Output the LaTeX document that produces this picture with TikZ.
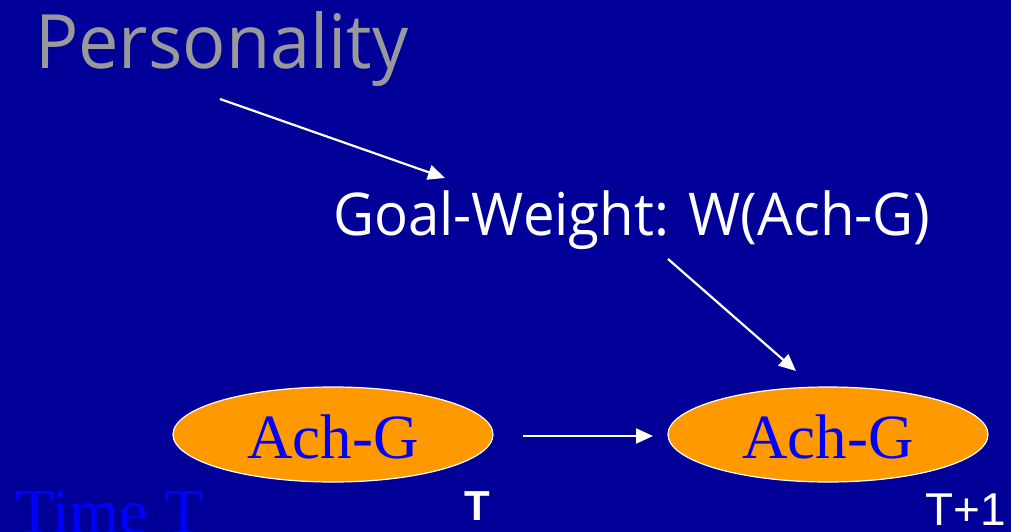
\documentclass[tikz,border=0pt]{standalone}
\usepackage{fontspec}
\setmainfont{Liberation Serif}
\newfontfamily\comicfont{Open Sans}
\newfontfamily\arialfont{Liberation Sans}
\usetikzlibrary{shapes.geometric,arrows.meta}
\definecolor{bgblue}{RGB}{0,0,153}
\definecolor{ellorange}{RGB}{255,153,0}
\definecolor{txtblue}{RGB}{0,0,255}
\definecolor{persgray}{RGB}{153,153,153}
\tikzset{
  conn/.style={draw=white, line width=2.2pt, -{Triangle[length=17pt,width=15pt]}},
  achnode/.style={ellipse, draw=white, line width=1.2pt, fill=ellorange,
    minimum width=320pt, minimum height=95pt, inner sep=0pt},
  achtext/.style={text=txtblue, font=\fontsize{63}{70}\selectfont},
}
\begin{document}
\begin{tikzpicture}[x=1pt,y=-1pt]
\fill[bgblue] (0,0) rectangle (1011,532);
\useasboundingbox (0,0) rectangle (1011,532);
% titles
\node[anchor=base west, inner sep=0pt, text=persgray, font=\comicfont\fontsize{75}{90}\selectfont] (pers) at (35,69) {\scalebox{0.96}[1]{Personality}};
\node[anchor=base west, inner sep=0pt, text=white, font=\comicfont\fontsize{59}{70}\selectfont] (goal) at (333,235) {\scalebox{0.955}[1]{Goal-Weight: W(Ach-G)}};
% ellipses
\node[achnode] (e1) at (333,434.5) {};
\node[achnode] (e2) at (828,434.5) {};
\node[achtext, anchor=base, inner sep=0pt] (t1) at (333,458) {Ach-G};
\node[achtext, anchor=base, inner sep=0pt] (t2) at (828,458) {Ach-G};
% labels
\node[anchor=base west, inner sep=0pt, text=txtblue, font=\fontsize{64}{70}\selectfont] (time) at (15,533) {Time T};
\node[anchor=base west, inner sep=0pt, text=white, font=\arialfont\bfseries\fontsize{42}{50}\selectfont] (tl) at (464,520) {T};
\node[anchor=base west, inner sep=0pt, text=white, font=\arialfont\fontsize{46}{56}\selectfont] (tp) at (925,525) {T+1};
% connectors
\coordinate (a1s) at (220,99);
\coordinate (a1e) at (445,178);
\coordinate (a2s) at (668,259);
\coordinate (a2e) at (796,371);
\coordinate (a3s) at (523,436);
\coordinate (a3e) at (653,436);
\draw[conn] (a1s) -- (a1e);
\draw[conn] (a2s) -- (a2e);
\draw[conn] (a3s) -- (a3e);
\end{tikzpicture}
\end{document}
